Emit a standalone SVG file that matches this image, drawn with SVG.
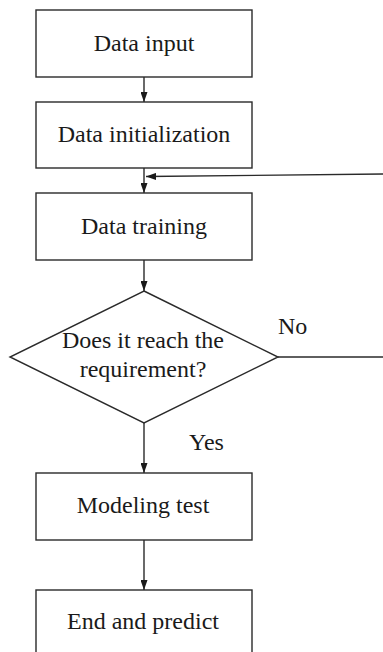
<svg xmlns="http://www.w3.org/2000/svg" width="383" height="652" viewBox="0 0 383 652">
<style>
.box{fill:#fff;stroke:#2a2a2a;stroke-width:1.4}
text{font-family:'Liberation Serif','Times New Roman',serif;font-size:24px;fill:#1a1a1a}
.t{text-anchor:middle}
.c{fill:none;stroke:#2a2a2a;stroke-width:1.4}
</style>
<defs>
<marker id="ah" markerUnits="userSpaceOnUse" markerWidth="10" markerHeight="7" refX="10" refY="3.5" orient="auto">
<path d="M0,0 L10,3.5 L0,7 z" fill="#1a1a1a"/>
</marker>
</defs>
<rect width="383" height="652" fill="#fff"/>
<g id="connectors">
<line class="c" x1="144" y1="77" x2="144" y2="102" marker-end="url(#ah)"/>
<line class="c" x1="144" y1="168" x2="144" y2="193" marker-end="url(#ah)"/>
<line class="c" x1="383" y1="174" x2="146" y2="176.5" marker-end="url(#ah)"/>
<line class="c" x1="144" y1="260" x2="144" y2="291" marker-end="url(#ah)"/>
<line class="c" x1="278" y1="357" x2="383" y2="357"/>
<line class="c" x1="144" y1="423" x2="144" y2="473" marker-end="url(#ah)"/>
<line class="c" x1="144" y1="540" x2="144" y2="590" marker-end="url(#ah)"/>
<text x="278" y="334">No</text>
<text x="189" y="450">Yes</text>
</g>
<g id="n1"><rect class="box" x="36" y="10" width="216" height="67"/><text class="t" x="144" y="51">Data input</text></g>
<g id="n2"><rect class="box" x="36" y="102" width="216" height="66"/><text class="t" x="144" y="142">Data initialization</text></g>
<g id="n3"><rect class="box" x="36" y="193" width="216" height="67"/><text class="t" x="144" y="234">Data training</text></g>
<g id="n4"><path class="box" d="M144,291 L278,357 L144,423 L10,357 Z"/><text class="t" x="143" y="348">Does it reach the</text><text class="t" x="143" y="377">requirement?</text></g>
<g id="n5"><rect class="box" x="36" y="473" width="216" height="67"/><text class="t" x="143" y="513">Modeling test</text></g>
<g id="n6"><rect class="box" x="36" y="590" width="216" height="70"/><text class="t" x="143" y="629">End and predict</text></g>
</svg>
